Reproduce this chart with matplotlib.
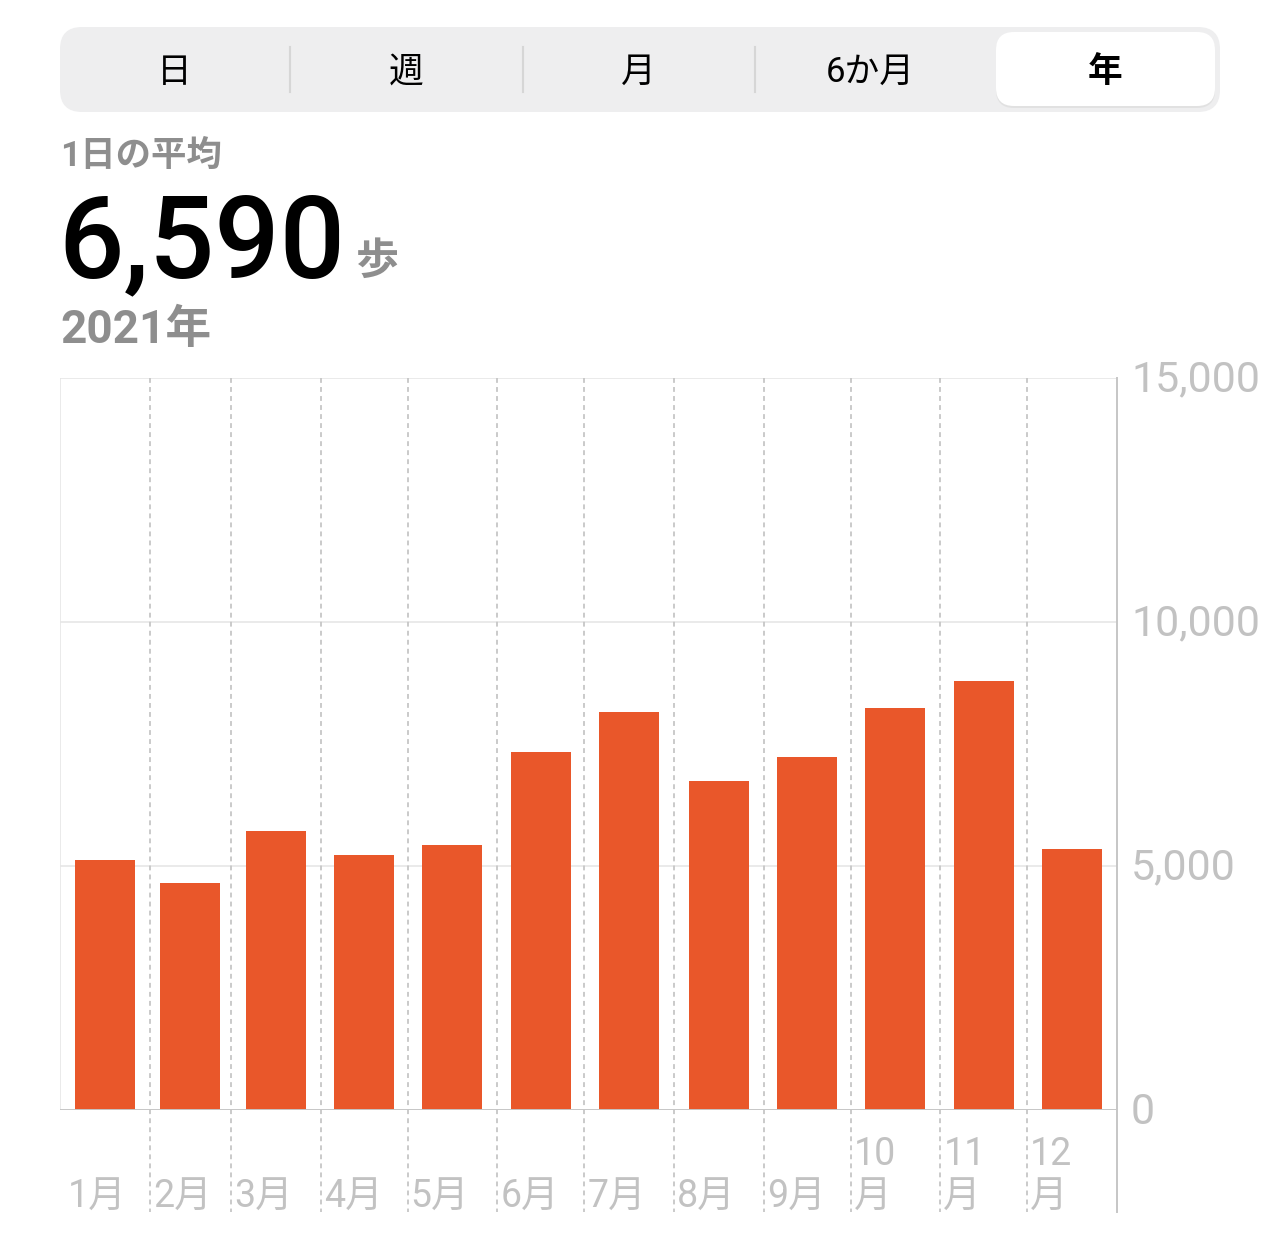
import matplotlib
matplotlib.use("Agg")
from matplotlib import pyplot as plt
from matplotlib.patches import FancyBboxPatch
import numpy as np

# daily average steps per month, 2021
months = ["1月", "2月", "3月", "4月", "5月", "6月", "7月", "8月", "9月", "10\n月", "11\n月", "12\n月"]
days_in_month = [31, 28, 31, 30, 31, 30, 31, 31, 30, 31, 30, 31]
steps = [5120, 4650, 5720, 5220, 5430, 7330, 8150, 6740, 7230, 8240, 8790, 5350]
y_ticks = [0, 5000, 10000, 15000]
y_tick_labels = ["0", "5,000", "10,000", "15,000"]
segments = ["日", "週", "月", "6か月", "年"]

JP = ["Noto Sans CJK JP", "DejaVu Sans"]
NUM = ["Roboto", "Noto Sans CJK JP", "DejaVu Sans"]
plt.rcParams["font.family"] = JP
plt.rcParams["lines.scale_dashes"] = False

W, H = 1284, 1249
fig = plt.figure(figsize=(W / 100, H / 100), dpi=100)

# chart area in pixels: x 60..1117, y 378..1110
L, R, T, B = 60, 1117, 378, 1110
ax = fig.add_axes([L / W, 1 - B / H, (R - L) / W, (B - T) / H])

edges = np.concatenate([[0], np.cumsum(days_in_month)])
mids = (edges[:-1] + edges[1:]) / 2
ax.set_xlim(0, edges[-1])
ax.set_ylim(0, 15000)
px_per_day = (R - L) / edges[-1]
bar_w = 60 / px_per_day
ax.bar(mids, steps, width=bar_w, color="#E9572A", zorder=3)

for s in ax.spines.values():
    s.set_visible(False)
ax.set_xticks([])
ax.set_yticks([])

grid_c = "#e6e6e6"
axis_c = "#c6c6c6"
for v in y_ticks[1:]:
    ax.axhline(v, color=grid_c, lw=1.2, zorder=1)
ax.axhline(0, color=axis_c, lw=1.4, zorder=4)
ax.axvline(0, color=grid_c, lw=1.2, zorder=1)

# dashed month boundaries, running below the plot
y_low = -(1212 - B) / (B - T) * 15000
for e in edges[1:-1]:
    ax.plot([e, e], [15000, y_low], color=axis_c, lw=1.3, dashes=(3.5, 3),
            clip_on=False, zorder=2)
ax.plot([edges[-1], edges[-1]], [15000, y_low], color=axis_c, lw=1.4,
        clip_on=False, zorder=4)

# month labels
for e, lab in zip(edges[:-1], months):
    off = 8 if e == 0 else 3
    ax.annotate(lab, xy=(e, y_low), xytext=(off * 0.72, -4 * 0.72), textcoords="offset points",
                ha="left", va="bottom", fontsize=27, color="#c2c2c2",
                linespacing=1.2, family=NUM, annotation_clip=False)

# right axis labels
for v, lab in zip(y_ticks, y_tick_labels):
    ax.annotate(lab, xy=(edges[-1], v), xytext=(14 * 0.72, -2 * 0.72), textcoords="offset points",
                ha="left", va="center", fontsize=31, color="#c2c2c2",
                family=NUM, annotation_clip=False)

# header overlay in pixel coordinates
hx = fig.add_axes([0, 0, 1, 1], zorder=-1)
hx.set_xlim(0, W)
hx.set_ylim(H, 0)
hx.axis("off")

hx.add_patch(FancyBboxPatch((60 + 22, 27 + 22), 1160 - 44, 85 - 44,
                            boxstyle="round,pad=22", fc="#eeeeef", ec="none"))
hx.add_patch(FancyBboxPatch((996 + 18, 34 + 18), 219 - 36, 74 - 36,
                            boxstyle="round,pad=18", fc="#d9d9d9", ec="none", alpha=0.6))
hx.add_patch(FancyBboxPatch((996 + 18, 32 + 18), 219 - 36, 74 - 36,
                            boxstyle="round,pad=18", fc="white", ec="none"))
for sx in [290, 523, 755]:
    hx.plot([sx, sx], [47, 92], color="#d6d6d6", lw=1.5)
seg_x = [174, 406, 638, 870, 1105]
for i, (sx, lab) in enumerate(zip(seg_x, segments)):
    hx.text(sx, 72, lab, ha="center", va="center", fontsize=25, color="black",
            fontweight="bold" if i == 4 else "normal", family=NUM)

gray = "#8e8e8e"
hx.text(60, 156, "1日の平均", ha="left", va="center", fontsize=25.5, color=gray,
        fontweight="bold", family=NUM)
hx.text(58, 277, "6,590", ha="left", va="baseline", fontsize=83, color="black",
        fontweight="medium", family=NUM)
hx.text(356, 274, "歩", ha="left", va="baseline", fontsize=31, color=gray,
        fontweight="bold")
hx.text(60, 343, "2021年", ha="left", va="baseline", fontsize=33, color=gray,
        fontweight="bold", family=NUM)

fig.savefig("out.png", dpi=100, facecolor="white")
plt.close(fig)
